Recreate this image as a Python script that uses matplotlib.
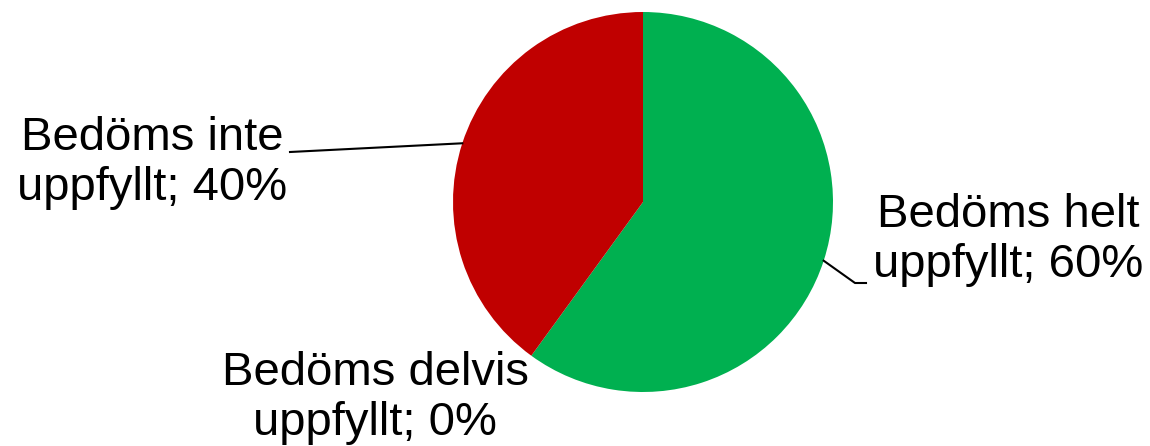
import numpy as np
import matplotlib.pyplot as plt

plt.rcParams['font.family'] = ['Liberation Sans', 'DejaVu Sans']

labels = ['Bedöms helt\nuppfyllt; 60%', 'Bedöms delvis\nuppfyllt; 0%', 'Bedöms inte\nuppfyllt; 40%']
shares = [60, 0, 40]
colors = ['#00B050', '#FFC000', '#C00000']

fig = plt.figure(figsize=(11.5, 4.46), dpi=100)
ax = fig.add_axes([0, 0, 1, 1])

cx, cy, r = 643, 244, 190
wedges, _ = ax.pie(shares, colors=colors, startangle=90, counterclock=False,
                   center=(cx, cy), radius=r, frame=True,
                   wedgeprops=dict(linewidth=0))
ax.set_xlim(0, 1150)
ax.set_ylim(0, 446)
ax.axis('off')

# label centres, in pixel-like data units
pos = [(1008, 206), (375, 48), (152, 283)]
for w, lab, (tx, ty) in zip(wedges, labels, pos):
    ax.text(tx, ty, lab, ha='center', va='center', fontsize=34,
            linespacing=1.16)

# leader lines from each slice's mid-angle
def edge(w):
    a = np.deg2rad((w.theta1 + w.theta2) / 2)
    return cx + r * np.cos(a), cy + r * np.sin(a)

ex, ey = edge(wedges[0])
ax.plot([ex, 855, 866], [ey, 163, 163], color='black', lw=1.5)
ex, ey = edge(wedges[2])
ax.plot([ex, 290], [ey, 294], color='black', lw=1.5)

fig.savefig('out.png', dpi=100)
